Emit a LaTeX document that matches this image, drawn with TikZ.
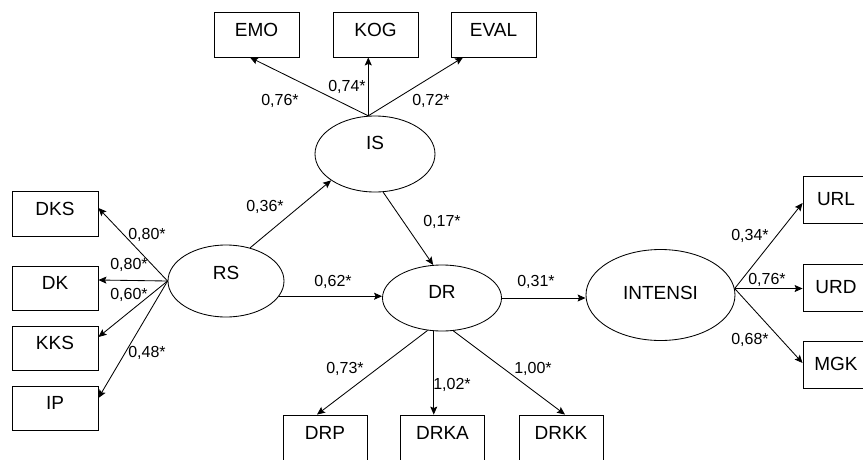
\documentclass[tikz,border=0pt]{standalone}
\usepackage{fontspec}
\setmainfont{Liberation Sans}
\usetikzlibrary{shapes.geometric,arrows.meta}

\tikzset{
	indicator/.style={draw,minimum width=85pt,minimum height=45pt,inner sep=0pt,text height=13.5pt,text depth=10pt,font=\fontsize{19}{21}\selectfont},
	latent/.style={draw,ellipse,inner sep=0pt,text height=13.5pt,font=\fontsize{19}{21}\selectfont},
	coef/.style={inner sep=0pt,font=\fontsize{16}{18}\selectfont},
	load/.style={-{Stealth[length=8pt,width=7pt,inset=1.5pt]}}
}

\begin{document}
\begin{tikzpicture}[x=1pt,y=-1pt,line width=0.85pt]
	\useasboundingbox (0,0) rectangle (863,459);
	\clip (0,0) rectangle (863,459);
	
	\node[latent,minimum width=120pt,minimum height=76pt,text depth=22pt](is) at (375,154){IS};
	\node[latent,minimum width=116pt,minimum height=72pt,text depth=16pt](rs) at (226,281){RS};
	\node[latent,minimum width=119pt,minimum height=66pt,text depth=12pt](dr) at (442,298){DR};
	\node[latent,minimum width=149pt,minimum height=91pt,text depth=4pt](intensi) at (660.5,295){INTENSI};
	
	\node[indicator](emo) at (256.5,34.5){EMO};
	\node[indicator](kog) at (375.5,34.5){KOG};
	\node[indicator](eval) at (493.5,34.5){EVAL};
	
	\node[indicator,minimum width=86pt](dks) at (55,213.5){DKS};
	\node[indicator,minimum width=86pt,minimum height=44pt](dk) at (55,288){DK};
	\node[indicator,minimum width=86pt,minimum height=44pt](kks) at (55,348){KKS};
	\node[indicator,minimum width=86pt,minimum height=44pt](ip) at (55,408){IP};
	
	\node[indicator,minimum width=84pt](drp) at (325,437.5){DRP};
	\node[indicator,minimum width=84pt](drka) at (442.5,437.5){DRKA};
	\node[indicator,minimum width=84pt](drkk) at (561,437.5){DRKK};
	
	\node[indicator,minimum width=66pt,minimum height=47pt,text depth=2pt](url) at (836,199.5){URL};
	\node[indicator,minimum width=66pt,minimum height=47pt,text depth=2pt](urd) at (836,287.5){URD};
	\node[indicator,minimum width=66pt,minimum height=47pt,text depth=2pt](mgk) at (836,364.5){MGK};
	
	
	\draw[load] (is.100) -- ([xshift=-6.5pt]emo.south);
	\draw[load] (is.100) -- (is.100 |- kog.south);
	\draw[load] (is.100) -- ([xshift=-30.5pt]eval.south);
	\draw[load] (rs.west) -- ([yshift=5.5pt]dks.east);
	\draw[load] (rs.west) -- ([yshift=8pt]dk.east);
	\draw[load] (rs.west) -- ([yshift=11pt]kks.east);
	\draw[load] (rs.west) -- ([yshift=10pt]ip.east);
	\draw[load] (rs.54) -- (is.211);
	\draw[load] (is.282) -- (dr.105);
	\draw[load] (rs.-16) -- (rs.-16 -| dr.west);
	\draw[load] (dr.east) -- (dr.east -| intensi.west);
	\draw[load] (dr.246) -- ([xshift=-8pt]drp.north);
	\draw[load] (dr.256) -- (dr.256 |- drka.north);
	\draw[load] (dr.289) -- ([xshift=4pt]drkk.north);
	\draw[load] (intensi.5) -- ([yshift=-3.5pt]url.west);
	\draw[load] (intensi.5) -- (intensi.5 -| urd.west);
	\draw[load] (intensi.5) -- ([yshift=1.5pt]mgk.west);
	
	\node[coef](c-emo) at (280,101){0,76*};
	\node[coef](c-kog) at (347,87){0,74*};
	\node[coef](c-eval) at (431,101){0,72*};
	\node[coef](c-dks) at (147,235){0,80*};
	\node[coef](c-dk) at (129,265){0,80*};
	\node[coef](c-kks) at (129,295){0,60*};
	\node[coef](c-ip) at (147,353){0,48*};
	\node[coef](c-rsis) at (265,207){0,36*};
	\node[coef](c-isdr) at (442,222){0,17*};
	\node[coef](c-rsdr) at (333,282){0,62*};
	\node[coef](c-drint) at (536,282){0,31*};
	\node[coef](c-drp) at (345,369){0,73*};
	\node[coef](c-drka) at (452,385){1,02*};
	\node[coef](c-drkk) at (533,369){1,00*};
	\node[coef](c-url) at (750,236){0,34*};
	\node[coef](c-urd) at (767,280){0,76*};
	\node[coef](c-mgk) at (750,340){0,68*};
\end{tikzpicture}
\end{document}
